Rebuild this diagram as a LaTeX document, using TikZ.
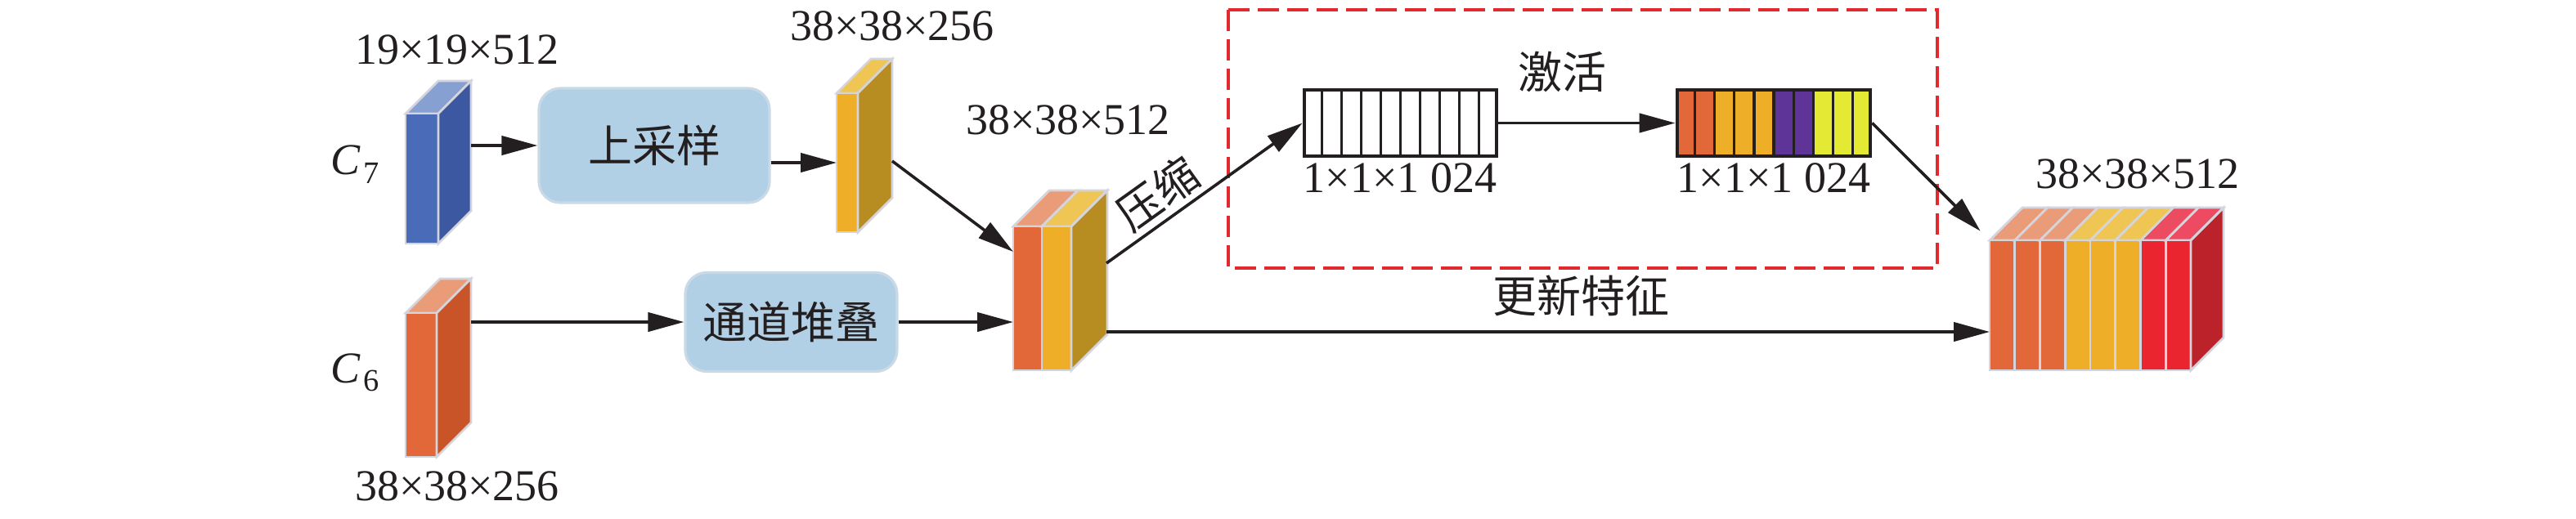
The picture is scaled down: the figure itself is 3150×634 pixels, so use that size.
\documentclass[tikz,border=0pt]{standalone}
\usepackage{fontspec}
\setmainfont{Liberation Serif}
\newfontfamily\cjk{Noto Sans CJK SC}
\usetikzlibrary{arrows.meta,calc}
\definecolor{blueF}{HTML}{4A6CB8}
\definecolor{blueS}{HTML}{3C58A0}
\definecolor{blueT}{HTML}{86A0D2}
\definecolor{orF}{HTML}{E2683A}
\definecolor{orS}{HTML}{C95427}
\definecolor{orT}{HTML}{EA9C78}
\definecolor{yeF}{HTML}{EFAE27}
\definecolor{yeS}{HTML}{B78C20}
\definecolor{yeT}{HTML}{EFC553}
\definecolor{reF}{HTML}{EA2530}
\definecolor{reS}{HTML}{BC2229}
\definecolor{reT}{HTML}{EC4B62}
\definecolor{purp}{HTML}{5F3498}
\definecolor{lemon}{HTML}{E4EA33}
\definecolor{boxfill}{HTML}{B2D0E5}
\definecolor{boxdraw}{HTML}{C9D9E6}
\definecolor{edgegray}{HTML}{D4D4DC}
\definecolor{dashred}{HTML}{E02A2E}
\definecolor{ink}{HTML}{231F20}
\newcommand\blkslice[7]{%
  \filldraw[edge, fill=#7] (#1,#3) -- ++(#5,-#5) -- ++(#2-#1,0) -- (#2,#3) -- cycle;
  \filldraw[edge, fill=#6] (#1,#3) rectangle (#2,#4);}
\newcommand\blkside[5]{%
  \filldraw[edge, fill=#5] (#1,#2) -- ++(#4,-#4) -- ++(0,#3-#2) -- (#1,#3) -- cycle;}
\begin{document}
\begin{tikzpicture}[x=0.25pt,y=-0.25pt,
  font=\fontsize{13.5}{16}\selectfont, text=ink,
  edge/.style={draw=edgegray, line width=0.7pt},
  arr/.style={draw=ink, line width=0.9pt, -{Triangle[length=11pt,width=5.8pt]}},
  proc/.style={rounded corners=6.5pt, fill=boxfill, draw=boxdraw, line width=0.8pt, inner sep=0, font=\cjk\fontsize{13.5}{16}\selectfont},
  lbl/.style={inner sep=0},
  hold/.style={inner sep=0, outer sep=0},
  bar/.style={draw=ink, line width=1.2pt, inner sep=0, minimum height=20.25pt}]
\useasboundingbox (0,0) rectangle (3150,634);

% ---- C7 block
\blkslice{496}{536}{139}{298}{40}{blueF}{blueT}
\blkside{536}{139}{298}{40}{blueS}
\coordinate (c7r) at (576,200);
% ---- C6 block
\blkslice{496}{534}{383}{559}{42}{orF}{orT}
\blkside{534}{383}{559}{42}{orS}
\coordinate (c6r) at (576,470);
% ---- upsampled block
\blkslice{1023}{1049}{114}{284}{42}{yeF}{yeT}
\blkside{1049}{114}{284}{42}{yeS}
\node[hold, minimum width=6.5pt, minimum height=42.5pt] (yb) at (1036,199) {};
\coordinate (ybr) at (1091,197);
% ---- concatenated block
\blkslice{1239}{1274}{277}{453}{44}{orF}{orT}
\blkslice{1274}{1310}{277}{453}{44}{yeF}{yeT}
\blkside{1310}{277}{453}{44}{yeS}
\node[hold, minimum width=17.75pt, minimum height=44pt] (mb) at (1274.5,365) {};
\coordinate (mbin) at (1239,308);
\coordinate (mbr1) at (1353,322);
\coordinate (mbr2) at (1353,406);
% ---- output block
\foreach \i/\fc/\tc in {0/orF/orT,1/orF/orT,2/orF/orT,3/yeF/yeT,4/yeF/yeT,5/yeF/yeT,6/reF/reT,7/reF/reT}{
  \pgfmathsetmacro\xa{2433+\i*30.75}
  \pgfmathsetmacro\xb{2433+(\i+1)*30.75}
  \blkslice{\xa}{\xb}{294}{453}{40}{\fc}{\tc}
}
\blkside{2679}{294}{453}{40}{reS}
\node[hold, minimum width=61.5pt, minimum height=39.75pt] (ob) at (2556,373.5) {};
\coordinate (obnw) at (2433,294);

% ---- labels
\node[lbl] (t1) at (559,61) {19×19×512};
\node[lbl] (t2) at (559,595) {38×38×256};
\node[lbl] (t3) at (1091,32) {38×38×256};
\node[lbl] (t4) at (1306,147) {38×38×512};
\node[lbl] (t5) at (2614,213) {38×38×512};
\node[lbl] (lc7) at (434,201) {\textit{C}\kern0.8pt\raisebox{-2.6pt}{\fontsize{9.6}{11}\selectfont 7}};
\node[lbl] (lc6) at (434,456) {\textit{C}\kern0.8pt\raisebox{-2.6pt}{\fontsize{9.6}{11}\selectfont 6}};

% ---- process boxes
\node[proc, minimum width=70.5pt, minimum height=35pt] (up) at (800,178) {上采样};
\node[proc, minimum width=64.75pt, minimum height=30.25pt] (stk) at (967.5,394) {通道堆叠};

% ---- SE module
\draw[dashred, line width=1pt, dash pattern=on 6.5pt off 2.5pt] (1502,12) rectangle (2369,328);
\node[bar, minimum width=58.75pt] (wb) at (1712.5,150.5) {};
\foreach \i in {1,...,9}
  \draw[ink, line width=0.8pt] ($(wb.north west)!\i/10!(wb.north east)$) -- ($(wb.south west)!\i/10!(wb.south east)$);
\node[bar, minimum width=59pt] (cb) at (2169,150.5) {};
\foreach \c [count=\i from 0] in {orF,orF,yeF,yeF,yeF,purp,purp,lemon,lemon,lemon}
  \fill[\c] ($(cb.south west)!\i/10!(cb.south east)$) rectangle ($(cb.north west)!{(\i+1)/10}!(cb.north east)$);
\foreach \i in {1,...,9}
  \draw[ink, line width=0.8pt] ($(cb.north west)!\i/10!(cb.north east)$) -- ($(cb.south west)!\i/10!(cb.south east)$);
\node[bar, minimum width=59pt] at (cb) {};
\node[lbl] (s1) at (1712,218) {1×1×1 024};
\node[lbl] (s2) at (2169,218) {1×1×1 024};
\node[lbl, font=\cjk\fontsize{13.5}{16}\selectfont] (act) at (1910,88) {激活};
\node[lbl, font=\cjk\fontsize{13.5}{16}\selectfont] (upd) at (1933,362) {更新特征};

% ---- connectors
\draw[arr] (c7r |- up.west) -- (up.west);
\draw[arr] (up.east |- yb.west) -- (yb.west);
\draw[arr] (c6r |- stk.west) -- (stk.west);
\draw[arr] (stk.east) -- (stk.east -| mb.west);
\draw[arr] (ybr) -- (mbin);
\draw[arr] (mbr1) -- (wb.west) node[pos=0.34, sloped, above, inner sep=1.5pt, font=\cjk\fontsize{13.5}{16}\selectfont] {压缩};
\draw[arr] (wb.east) -- (cb.west);
\draw[arr, shorten >=4pt] (cb.east) -- (obnw);
\draw[arr] (mbr2) -- (mbr2 -| ob.west);
\end{tikzpicture}
\end{document}
